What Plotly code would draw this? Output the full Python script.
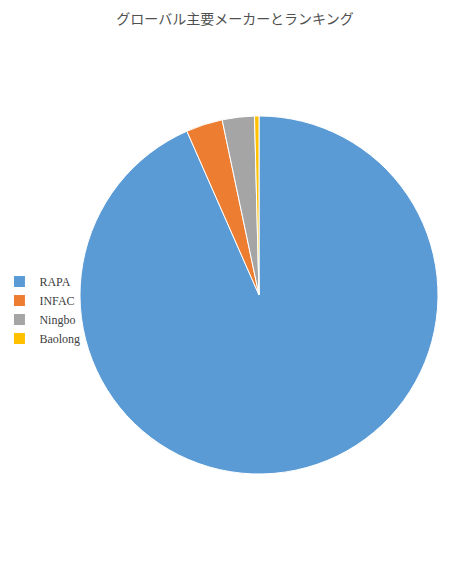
import plotly.graph_objects as go

categories = ["RAPA", "INFAC", "Ningbo", "Baolong"]
values = [93.4, 3.3, 2.9, 0.4]
colors = ["#5B9BD5", "#ED7D31", "#A5A5A5", "#FFC000"]

fig = go.Figure(go.Pie(
    labels=categories,
    values=values,
    sort=False,
    direction="clockwise",
    rotation=0,
    textinfo="none",
    hoverinfo="label+value",
    marker=dict(colors=colors, line=dict(color="white", width=1)),
))

fig.update_layout(
    width=454, height=576,
    margin=dict(l=72, r=24, t=108, b=110, autoexpand=False),
    paper_bgcolor="white",
    plot_bgcolor="white",
    title=dict(text="グローバル主要メーカーとランキング", x=0.5, xanchor="center",
               y=1 - 11 / 576, yanchor="middle",
               font=dict(family="Noto Sans CJK JP", size=14, color="#505050")),
    legend=dict(x=-0.225, xanchor="left", y=0.458, yanchor="middle",
                bgcolor="rgba(0,0,0,0)",
                font=dict(family="Liberation Serif", size=12, color="#404040"),
                itemwidth=30, tracegroupgap=0),
    showlegend=True,
)

fig.write_html("out.html")
